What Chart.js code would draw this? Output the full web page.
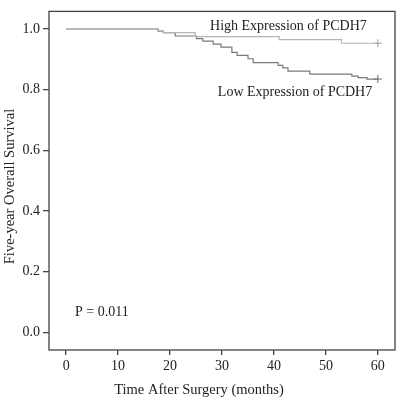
<!DOCTYPE html>
<html>
<head>
<meta charset="utf-8">
<script src="https://cdn.jsdelivr.net/npm/chart.js@4/dist/chart.umd.min.js"></script>
<style>
html,body{margin:0;padding:0;background:#fff;}
#wrap{width:400px;height:399px;position:relative;}
</style>
</head>
<body>
<div id="wrap"><canvas id="c" width="400" height="399"></canvas></div>
<script>
// Kaplan-Meier step data (time in months, survival proportion)
const timesHigh = [0, 17.7, 18.7, 24.8, 41.0, 53.0, 60];
const survHigh  = [1.0, 0.993, 0.988, 0.975, 0.965, 0.953, 0.953];
const timesLow  = [0, 17.7, 18.7, 21.0, 25.1, 26.3, 28.3, 29.8, 31.9, 32.9, 35.0, 36.0, 40.8, 41.7, 42.7, 46.9, 55.0, 56.2, 57.9, 60];
const survLow   = [1.0, 0.993, 0.988, 0.977, 0.968, 0.960, 0.950, 0.940, 0.923, 0.913, 0.902, 0.889, 0.880, 0.872, 0.861, 0.851, 0.845, 0.840, 0.835, 0.835];
const xTicks = [0, 10, 20, 30, 40, 50, 60];
const yTicks = [0.0, 0.2, 0.4, 0.6, 0.8, 1.0];
const labelHigh = "High Expression of PCDH7";
const labelLow = "Low Expression of PCDH7";
const pText = "P = 0.011";
const xTitle = "Time After Surgery (months)";
const yTitle = "Five-year Overall Survival";

const FONT = "'Liberation Serif', 'Times New Roman', serif";
const TXT = '#222';

const toPts = (t, s) => t.map((v, i) => ({x: v, y: s[i]}));
const last = (t, s) => [{x: t[t.length-1], y: s[s.length-1]}];

const annot = [
  {text: labelHigh, x: 27.7, y: 1.01},
  {text: labelLow, x: 29.2, y: 0.79},
  {text: pText, x: 1.7, y: 0.065}
];

const framePlugin = {
  id: 'frame',
  afterDatasetsDraw(chart) {
    const {ctx, chartArea: a, scales} = chart;
    ctx.save();
    ctx.strokeStyle = '#444';
    ctx.lineWidth = 1.3;
    ctx.strokeRect(a.left, a.top, a.right - a.left, a.bottom - a.top);
    ctx.fillStyle = TXT;
    ctx.font = '14px ' + FONT;
    ctx.textBaseline = 'middle';
    ctx.textAlign = 'left';
    annot.forEach(o => {
      ctx.fillText(o.text, scales.x.getPixelForValue(o.x), scales.y.getPixelForValue(o.y));
    });
    // axis titles (centred on the figure, as in the original)
    ctx.font = '14.5px ' + FONT;
    ctx.textAlign = 'center';
    ctx.fillText(xTitle, chart.width / 2 - 1, chart.height - 9);
    ctx.translate(10, chart.height / 2 - 13);
    ctx.rotate(-Math.PI / 2);
    ctx.fillText(yTitle, 0, 0);
    ctx.restore();
  }
};

new Chart(document.getElementById('c'), {
  type: 'line',
  data: {
    datasets: [
      {data: toPts(timesHigh, survHigh), stepped: 'before', borderColor: '#b5b5b5', borderWidth: 1.2, pointRadius: 0, fill: false},
      {data: toPts(timesLow, survLow), stepped: 'before', borderColor: '#7a7a7a', borderWidth: 1.2, pointRadius: 0, fill: false},
      {data: last(timesHigh, survHigh), showLine: false, pointStyle: 'cross', pointRadius: 4, borderColor: '#9a9a9a', borderWidth: 1},
      {data: last(timesLow, survLow), showLine: false, pointStyle: 'cross', pointRadius: 4, borderColor: '#6a6a6a', borderWidth: 1}
    ]
  },
  options: {
    responsive: false,
    animation: false,
    devicePixelRatio: 1,
    layout: {padding: {left: 0, top: 5, right: 5, bottom: 0}},
    plugins: {legend: {display: false}, tooltip: {enabled: false}},
    scales: {
      x: {
        type: 'linear', min: -3.3, max: 63.3,
        afterBuildTicks: s => { s.ticks = xTicks.map(v => ({value: v})); },
        afterFit: s => { s.height = 49; },
        grid: {drawOnChartArea: false, drawTicks: true, tickLength: 5, color: '#444', lineWidth: 1.3},
        border: {display: false},
        ticks: {font: {family: FONT, size: 14}, color: TXT, padding: 3, maxRotation: 0, callback: v => String(v)},
        title: {display: false}
      },
      y: {
        type: 'linear', min: -0.058, max: 1.058,
        afterBuildTicks: s => { s.ticks = yTicks.map(v => ({value: v})); },
        afterFit: s => { s.width = 49; },
        grid: {drawOnChartArea: false, drawTicks: true, tickLength: 6, color: '#444', lineWidth: 1.3},
        border: {display: false},
        ticks: {font: {family: FONT, size: 14}, color: TXT, padding: 3, callback: v => Number(v).toFixed(1)},
        title: {display: false}
      }
    }
  },
  plugins: [framePlugin]
});
</script>
</body>
</html>
